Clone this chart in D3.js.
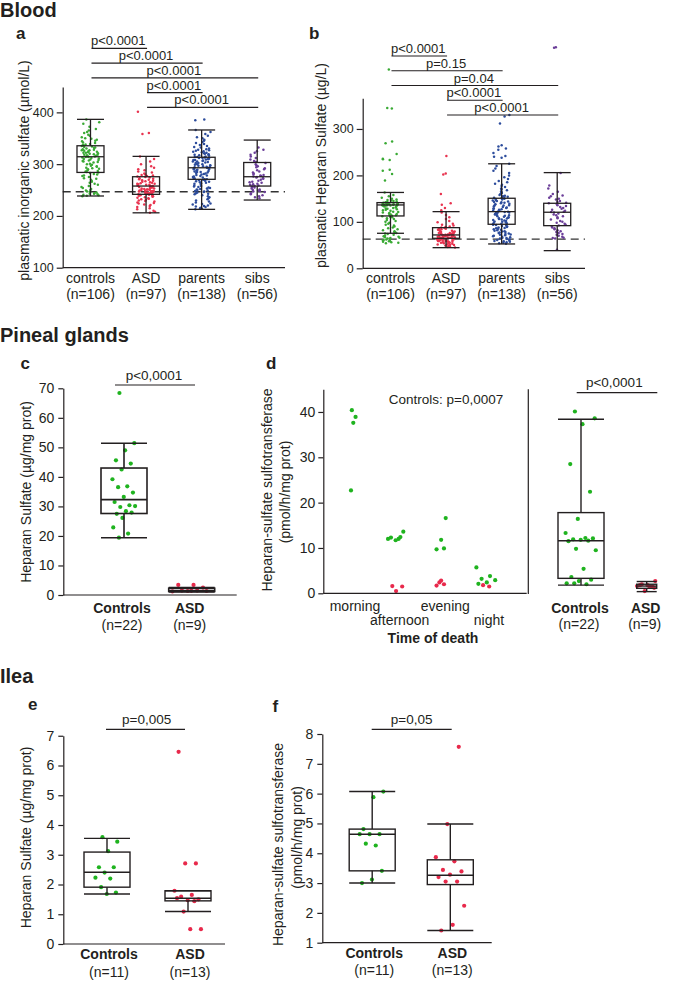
<!DOCTYPE html>
<html><head><meta charset="utf-8">
<script src="https://cdn.jsdelivr.net/npm/d3@7"></script>
<style>
body{margin:0;background:#fff;}
svg{display:block;background:#fff;}
</style></head><body>
<svg id="chart" width="685" height="981"></svg>
<script>
// ---------------- DATA ----------------
const bloodGroups = ["controls", "ASD", "parents", "sibs"];
const bloodN = ["(n=106)", "(n=97)", "(n=138)", "(n=56)"];
const aTicks = [100, 200, 300, 400];
const bTicks = [0, 100, 200, 300];

// panel a: plasmatic inorganic sulfate (µmol/L)
const aControls = [386,381,378,372,368,365,362,360,357,355,352,350,349,347,345,344,342,341,339,338,337,336,335,334,333,332,331,330,329,328,327,327,326,325,324,323,322,322,321,320,319,318,318,317,316,315,315,314,314,313,312,311,310,309,308,307,306,305,304,303,301,300,299,297,296,295,293,292,291,290,288,287,286,285,284,283,281,280,278,277,275,273,272,270,268,266,264,262,260,258,256,254,252,250,249,247,246,245,244,243,242,241,240,239,238,243];
const aASD = [401,360,358,315,310,305,300,296,293,290,288,286,284,282,280,279,278,277,276,275,274,273,272,271,270,269,268,267,266,265,264,263,262,262,261,260,260,259,258,258,257,257,256,255,255,254,253,253,252,251,251,250,250,249,249,248,248,247,247,246,246,245,245,244,244,243,243,242,242,241,241,240,240,239,238,237,236,235,234,233,232,231,230,229,228,226,225,224,222,221,219,217,215,213,210,208,206];
const aParents = [386,385,366,362,358,355,352,350,347,345,343,341,339,337,335,333,332,330,329,328,327,326,325,324,323,322,321,320,319,318,318,317,316,315,314,314,313,312,312,311,310,310,309,308,308,307,306,305,305,304,303,302,302,301,300,300,299,298,297,297,296,295,294,294,293,293,292,291,290,290,289,288,287,286,285,285,284,283,282,281,280,279,278,277,276,275,274,273,272,271,271,270,269,268,267,266,265,264,263,262,260,259,258,257,256,255,254,253,252,251,250,249,248,247,246,245,244,243,242,240,238,236,234,232,230,228,226,224,223,222,220,219,218,217,216,215,214,213];
const aSibs = [332,328,325,322,318,315,312,309,306,304,302,300,298,296,294,292,290,288,286,284,282,280,279,278,277,276,275,274,273,272,270,268,266,265,264,262,261,260,259,258,257,256,255,253,251,250,249,248,247,246,244,242,240,238,236,234];
// box stats [low whisker, Q1, median, Q3, high whisker]
const aStats = [[238.5,284,314.3,335.5,386.5],[206,241.7,257.7,275.7,315],[212.7,270.7,293,313.3,366],[230.7,257.7,275.7,303.2,346.5]];
const aRef = 246.7;
const aPairs = [[0,1],[0,2],[0,3],[1,2],[1,3]];
const aPLabels = ["p<0.0001","p<0.0001","p<0.0001","p<0.0001","p<0.0001"];

// panel b: plasmatic Heparan Sulfate (µg/L)
const bControls = [428,345,344,273,269,246,236,235,233,212,210,203,189,163,158,155,152,150,148,147,146,145,144,143,142,142,141,141,140,140,139,139,138,138,138,137,137,137,136,136,136,135,135,134,134,133,132,131,130,129,128,127,126,125,124,122,121,120,119,118,117,116,115,114,113,112,111,110,108,106,104,102,100,98,96,94,92,90,88,86,84,82,80,78,77,76,75,74,72,70,69,68,67,66,65,64,63,62,61,60,59,58,57,56,55,54];
const bASD = [242,204,202,160,140,137,130,125,120,115,110,106,102,99,96,94,92,90,89,88,87,86,85,84,83,82,81,80,79,78,78,77,76,76,75,75,74,74,73,73,72,72,72,71,71,71,70,70,70,69,69,68,68,68,67,67,66,66,66,65,65,65,64,64,64,63,63,62,62,61,61,60,60,59,59,58,58,57,57,56,56,55,55,54,53,52,51,50,49,48,47,46,45,50,55,60,70];
const bParents = [330,327,312,265,262,258,255,248,242,240,238,225,220,215,210,205,200,196,192,188,185,182,180,177,175,172,170,168,166,164,162,160,158,156,155,154,153,152,151,150,149,148,147,146,145,144,143,142,141,140,139,138,137,136,135,134,133,132,131,130,129,128,127,126,125,124,123,122,122,121,120,119,118,117,116,115,114,113,112,111,110,109,108,107,106,105,104,103,102,101,100,99,98,97,96,95,94,93,92,91,90,89,88,87,86,85,84,83,82,81,80,79,78,77,76,75,74,73,72,71,70,69,68,67,66,65,64,63,62,61,60,59,58,57,56,55,54,53];
const bSibs = [476,475,205,178,172,165,160,157,155,152,150,148,145,143,141,140,138,136,134,132,130,128,126,124,122,121,120,118,116,114,112,110,108,105,102,100,98,96,94,92,90,88,86,84,82,80,78,76,74,72,70,68,66,65,64,40];
const bStats = [[75.4,112.7,136.4,141.4,163.3],[44.4,64.6,71.8,87.5,122],[52.4,94.8,122,150.8,225],[38,91.8,120.7,140,206]];
const bRef = 63;
const bPairs = [[0,1],[0,2],[0,3],[1,2],[1,3]];
const bPLabels = ["p<0.0001","p=0.15","p=0.04","p<0.0001","p<0.0001"];

// panel c: pineal Heparan Sulfate (µg/mg prot)
const tissueGroups = ["Controls", "ASD"];
const cTicks = [0,10,20,30,40,50,60,70];
const cControls = [68.4,51.4,49.0,45.6,44.5,42.5,39.2,36.8,36.5,34.7,33.2,31.5,30.4,29.8,30.1,28.4,27.5,27.9,26.1,22.9,20.8,19.4];
const cASD = [3.4,3.4,2.5,1.35,1.2,1.5,1.5,1.35,1.4];
const cStats = [[19.4,27.6,32.3,43.0,51.4],[1.0,1.2,1.5,2.3,2.5]];
const cN = ["(n=22)", "(n=9)"];

// panel d: Heparan-sulfate sulfotransferase (pmol/h/mg prot)
const dTicks = [0,10,20,30,40];
const dTimes = ["morning","afternoon","evening","night"];
const dCtrlByTime = [[40.4,38.9,37.6,22.7],[12.0,12.3,13.6,11.7,12.0,12.4],[16.6,11.8,9.7,9.9],[5.7,3.8,3.2,2.9,2.4,2.1]];
const dASDByTime = [[],[1.6,1.5,0.5],[2.8,1.7,2.0,2.4],[1.5,1.8]];
const dControls = [40.1,38.6,37.3,28.5,22.4,16.4,13.3,12.2,11.9,12.1,11.8,11.5,11.6,9.8,9.5,5.4,3.6,3.0,2.7,2.2,2.0,2.2];
const dASD = [2.7,1.8,1.8,1.4,0.5,1.6,1.5,2.0,1.2];
const dStats = [[1.8,3.3,11.6,17.8,38.4],[0.37,1.1,1.6,2.0,2.6]];
const dN = ["(n=22)", "(n=9)"];

// panel e: ilea Heparan Sulfate (µg/mg prot)
const eTicks = [0,1,2,3,4,5,6,7];
const eControls = [3.59,3.44,3.12,2.58,2.58,2.40,2.23,2.20,1.91,1.73,1.68];
const eASD = [6.46,2.71,2.71,1.79,1.65,1.59,1.50,1.47,1.54,1.44,1.09,0.50,0.50];
const eStats = [[1.68,1.91,2.41,3.09,3.55],[1.09,1.45,1.54,1.79,1.79]];
const eN = ["(n=11)", "(n=13)"];

// panel f: ilea Heparan-sulfate sulfotransferase
const fTicks = [1,2,3,4,5,6,7,8];
const fControls = [6.07,5.88,4.81,4.64,4.64,4.64,4.26,4.32,3.41,3.12,3.0];
const fASD = [7.57,4.98,3.87,3.73,3.44,3.39,3.28,3.2,3.05,3.05,2.24,1.6,1.41];
const fStats = [[3.0,3.41,4.64,4.81,6.07],[1.41,2.95,3.26,3.78,4.98]];
const fN = ["(n=11)", "(n=13)"];

// ---------------- DRAWING ----------------
const FONT = '"Liberation Sans", Arial, Helvetica, sans-serif';
const INK = "#231f20";
const COL = {green:"#3aaa35", red:"#e8334f", blue:"#2c4c9c", purple:"#6b3e99", green2:"#1fb31f", red2:"#e8294b"};
const svg = d3.select("#chart");
svg.append("rect").attr("width",685).attr("height",981).attr("fill","#fff");

function txt(x, y, s, size, opts = {}) {
  return svg.append("text").attr("x", x).attr("y", y).text(s)
    .attr("font-family", FONT).attr("font-size", size).attr("fill", INK)
    .attr("text-anchor", opts.anchor || "middle")
    .attr("font-weight", opts.bold ? "bold" : "normal");
}
function vtxt(x, y, s, size) {
  return svg.append("text").attr("transform", `translate(${x},${y}) rotate(-90)`)
    .attr("text-anchor", "middle").attr("font-family", FONT).attr("font-size", size)
    .attr("fill", INK).text(s);
}
function line(x1, y1, x2, y2, w = 1.2, dash = null) {
  const l = svg.append("line").attr("x1", x1).attr("y1", y1).attr("x2", x2).attr("y2", y2)
    .attr("stroke", INK).attr("stroke-width", w);
  if (dash) l.attr("stroke-dasharray", dash).attr("stroke", "#333");
  return l;
}
function yAxis(x, scale, ticks, fs, tickSize, pad) {
  const g = svg.append("g").attr("transform", `translate(${x},0)`)
    .call(d3.axisLeft(scale).tickValues(ticks).tickFormat(d3.format("d"))
      .tickSize(tickSize).tickPadding(pad).tickSizeOuter(0));
  g.attr("font-family", FONT).attr("font-size", fs).attr("color", INK);
  g.selectAll("path,line").attr("stroke-width", 1.2);
  return g;
}
// deterministic horizontal jitter (position only, not data)
function hash(i) {
  const s = Math.sin(i * 12.9898 + 78.233) * 43758.5453;
  return s - Math.floor(s);
}
function jitGolden(i, w) {
  const f = (i * 0.6180339887 + 0.31) % 1;
  return (f - 0.5) * 2 * w;
}
function points(cx, vals, y, color, r, w, seed = 0, mode = "golden") {
  svg.append("g").selectAll("circle").data(vals).join("circle")
    .attr("cx", (d, i) => cx + (mode === "hash" ? (hash(i + seed * 1000) - 0.5) * 2 * w : jitGolden(i + seed, w)))
    .attr("cy", d => y(d)).attr("r", r).attr("fill", color);
}
function box(cx, bw, st, y, sw) {
  const g = svg.append("g").attr("stroke", INK).attr("stroke-width", sw).attr("fill", "none");
  const h = bw / 2;
  const [lo, q1, md, q3, hi] = st;
  g.append("line").attr("x1", cx).attr("x2", cx).attr("y1", y(hi)).attr("y2", y(q3));
  g.append("line").attr("x1", cx).attr("x2", cx).attr("y1", y(q1)).attr("y2", y(lo));
  g.append("line").attr("x1", cx - h).attr("x2", cx + h).attr("y1", y(hi)).attr("y2", y(hi));
  g.append("line").attr("x1", cx - h).attr("x2", cx + h).attr("y1", y(lo)).attr("y2", y(lo));
  g.append("rect").attr("x", cx - h).attr("y", y(q3)).attr("width", bw).attr("height", Math.max(0.5, y(q1) - y(q3)));
  g.append("line").attr("x1", cx - h).attr("x2", cx + h).attr("y1", y(md)).attr("y2", y(md));
}
function brackets(x, groups, pairs, labels, y0, step) {
  pairs.forEach((p, k) => {
    const yy = y0 + k * step;
    const x1 = x(groups[p[0]]), x2 = x(groups[p[1]]);
    line(x1 + 1, yy, x2 + 1, yy);
    txt((x1 + x2) / 2, yy - 3, labels[k], 13);
  });
}

// ----- titles -----
txt(0, 17, "Blood", 20, {bold: true, anchor: "start"});
txt(0, 341.7, "Pineal glands", 20, {bold: true, anchor: "start"});
txt(0, 683.3, "Ilea", 20, {bold: true, anchor: "start"});
txt(16, 39.3, "a", 17, {bold: true, anchor: "start"});
txt(309, 39.3, "b", 17, {bold: true, anchor: "start"});
txt(20.5, 369.3, "c", 17, {bold: true, anchor: "start"});
txt(266, 369.3, "d", 17, {bold: true, anchor: "start"});
txt(28, 710, "e", 17, {bold: true, anchor: "start"});
txt(272.5, 711.7, "f", 17, {bold: true, anchor: "start"});

// ----- panel a -----
{
  const y = d3.scaleLinear().domain([100, 449]).range([267.7, 87]);
  const x = d3.scalePoint().domain(bloodGroups).range([62.7, 285]).padding(0.5);
  line(62.7, y(aRef), 285, y(aRef), 1.3, "8,5");
  const sets = [aControls, aASD, aParents, aSibs];
  const cols = [COL.green, COL.red, COL.blue, COL.purple];
  sets.forEach((s, i) => points(x(bloodGroups[i]), s, y, cols[i], 1.25, 9, i + 1, "hash"));
  aStats.forEach((st, i) => box(x(bloodGroups[i]), 27, st, y, 1.3));
  yAxis(62.7, y, aTicks, 12.5, 6, 3);
  line(62.7, 267.7, 285, 267.7);
  bloodGroups.forEach((g, i) => {
    txt(x(g), 282.7, g, 14);
    txt(x(g), 299.3, bloodN[i], 14);
  });
  brackets(x, bloodGroups, aPairs, aPLabels, 48.3, 14.75);
  vtxt(29, 170.5, "plasmatic inorganic sulfate (µmol/L)", 14);
}

// ----- panel b -----
{
  const y = d3.scaleLinear().domain([0, 366]).range([268.3, 98.3]);
  const x = d3.scalePoint().domain(bloodGroups).range([362.7, 585]).padding(0.5);
  line(362.7, y(bRef), 585, y(bRef), 1.3, "8,5");
  const sets = [bControls, bASD, bParents, bSibs];
  const cols = [COL.green, COL.red, COL.blue, COL.purple];
  sets.forEach((s, i) => points(x(bloodGroups[i]), s, y, cols[i], 1.25, 9, i + 7, "hash"));
  bStats.forEach((st, i) => box(x(bloodGroups[i]), 27, st, y, 1.3));
  yAxis(362.7, y, bTicks, 12.5, 6, 3);
  line(362.7, 268.3, 585, 268.3);
  bloodGroups.forEach((g, i) => {
    txt(x(g), 282.7, g, 14);
    txt(x(g), 299.3, bloodN[i], 14);
  });
  brackets(x, bloodGroups, bPairs, bPLabels, 56, 14.75);
  vtxt(326, 165.5, "plasmatic Heparan Sulfate (µg/L)", 14);
}

// ----- panel c -----
{
  const y = d3.scaleLinear().domain([0, 70]).range([595, 388.3]);
  const x = d3.scalePoint().domain(tissueGroups).range([124, 191.7]);
  points(x("Controls"), cControls, y, COL.green2, 2.1, 12, 0);
  points(x("ASD"), cASD, y, COL.red2, 2.1, 20, 2);
  box(x("Controls"), 46, cStats[0], y, 1.6);
  box(x("ASD"), 46, cStats[1], y, 1.6);
  yAxis(63.3, y, cTicks, 14, 5, 4);
  line(63.3, 595, 236.7, 595);
  tissueGroups.forEach((g, i) => {
    txt(x(g) - 2, 612.7, g, 14, {bold: true});
    txt(x(g) - 2, 629.5, cN[i], 14);
  });
  line(115, 385, 195, 385);
  txt(154, 380, "p<0,0001", 13.5);
  vtxt(31, 492, "Heparan Sulfate (µg/mg prot)", 14);
}

// ----- panel d -----
{
  const y = d3.scaleLinear().domain([0, 45]).range([593.3, 389.3]);
  const xl = d3.scalePoint().domain(dTimes).range([353, 487]);
  const xr = d3.scalePoint().domain(tissueGroups).range([581, 646.7]);
  const spread = [3, 10, 6, 11];
  dTimes.forEach((t, i) => {
    points(xl(t), dCtrlByTime[i], y, COL.green2, 2.1, spread[i], i * 2);
    points(xl(t), dASDByTime[i], y, COL.red2, 2.1, Math.min(spread[i], 8), i * 2 + 1);
  });
  points(xr("Controls"), dControls, y, COL.green2, 2.1, 16, 0);
  points(xr("ASD"), dASD, y, COL.red2, 2.1, 10, 1);
  box(xr("Controls"), 46, dStats[0], y, 1.4);
  box(xr("ASD"), 20, dStats[1], y, 1.4);
  yAxis(323.3, y, dTicks, 14, 5, 3);
  line(323.3, 593.3, 526.7, 593.3);
  line(528.3, 389.3, 528.3, 594);
  dTimes.forEach((t, i) => txt(xl(t) + (i === 2 ? 3 : 2), i % 2 === 0 ? 610.7 : 625, t, 14));
  txt(433, 643.3, "Time of death", 14, {bold: true});
  txt(446, 404, "Controls: p=0,0007", 13.5);
  tissueGroups.forEach((g, i) => {
    txt(xr(g) - 1, 613.3, g, 14, {bold: true});
    txt(xr(g) - 2, 629.3, dN[i], 14);
  });
  line(576.7, 392.7, 657.3, 392.7);
  txt(614.3, 387, "p<0,0001", 13.5);
  vtxt(272, 490, "Heparan-sulfate sulfotransferase", 14);
  vtxt(290, 492, "(pmol/h/mg prot)", 14);
}

// ----- panel e -----
{
  const y = d3.scaleLinear().domain([0, 7]).range([944, 735.75]);
  const x = d3.scalePoint().domain(tissueGroups).range([107, 188]);
  points(x("Controls"), eControls, y, COL.green2, 2.1, 12, 0);
  points(x("ASD"), eASD, y, COL.red2, 2.1, 14, 3);
  box(x("Controls"), 46, eStats[0], y, 1.4);
  box(x("ASD"), 46, eStats[1], y, 1.4);
  yAxis(63.3, y, eTicks, 14, 5, 4);
  line(63.3, 944, 225, 944);
  tissueGroups.forEach((g, i) => {
    txt(x(g) + 2, 959.3, g, 14, {bold: true});
    txt(x(g) + 2, 976.7, eN[i], 14);
  });
  line(106, 729.3, 185, 729.3);
  txt(146.7, 724.3, "p=0,005", 13.5);
  vtxt(31, 837.5, "Heparan Sulfate (µg/mg prot)", 14);
}

// ----- panel f -----
{
  const y = d3.scaleLinear().domain([1, 8]).range([942.7, 734]);
  const x = d3.scalePoint().domain(tissueGroups).range([372.2, 450.3]);
  points(x("Controls"), fControls, y, COL.green2, 2.1, 13, 1);
  points(x("ASD"), fASD, y, COL.red2, 2.1, 15, 4);
  box(x("Controls"), 46, fStats[0], y, 1.4);
  box(x("ASD"), 46, fStats[1], y, 1.4);
  yAxis(322.3, y, fTicks, 14, 5, 4);
  line(322.3, 942.7, 491.7, 942.7);
  tissueGroups.forEach((g, i) => {
    txt(x(g) + 2, 957.7, g, 14, {bold: true});
    txt(x(g) + 2, 975, fN[i], 14);
  });
  line(371.7, 729.3, 451.7, 729.3);
  txt(411.7, 724.3, "p=0,05", 13.5);
  vtxt(283, 844.5, "Heparan-sulfate sulfotransferase", 14);
  vtxt(302, 837.5, "(pmol/h/mg prot)", 14);
}
</script>
</body></html>
